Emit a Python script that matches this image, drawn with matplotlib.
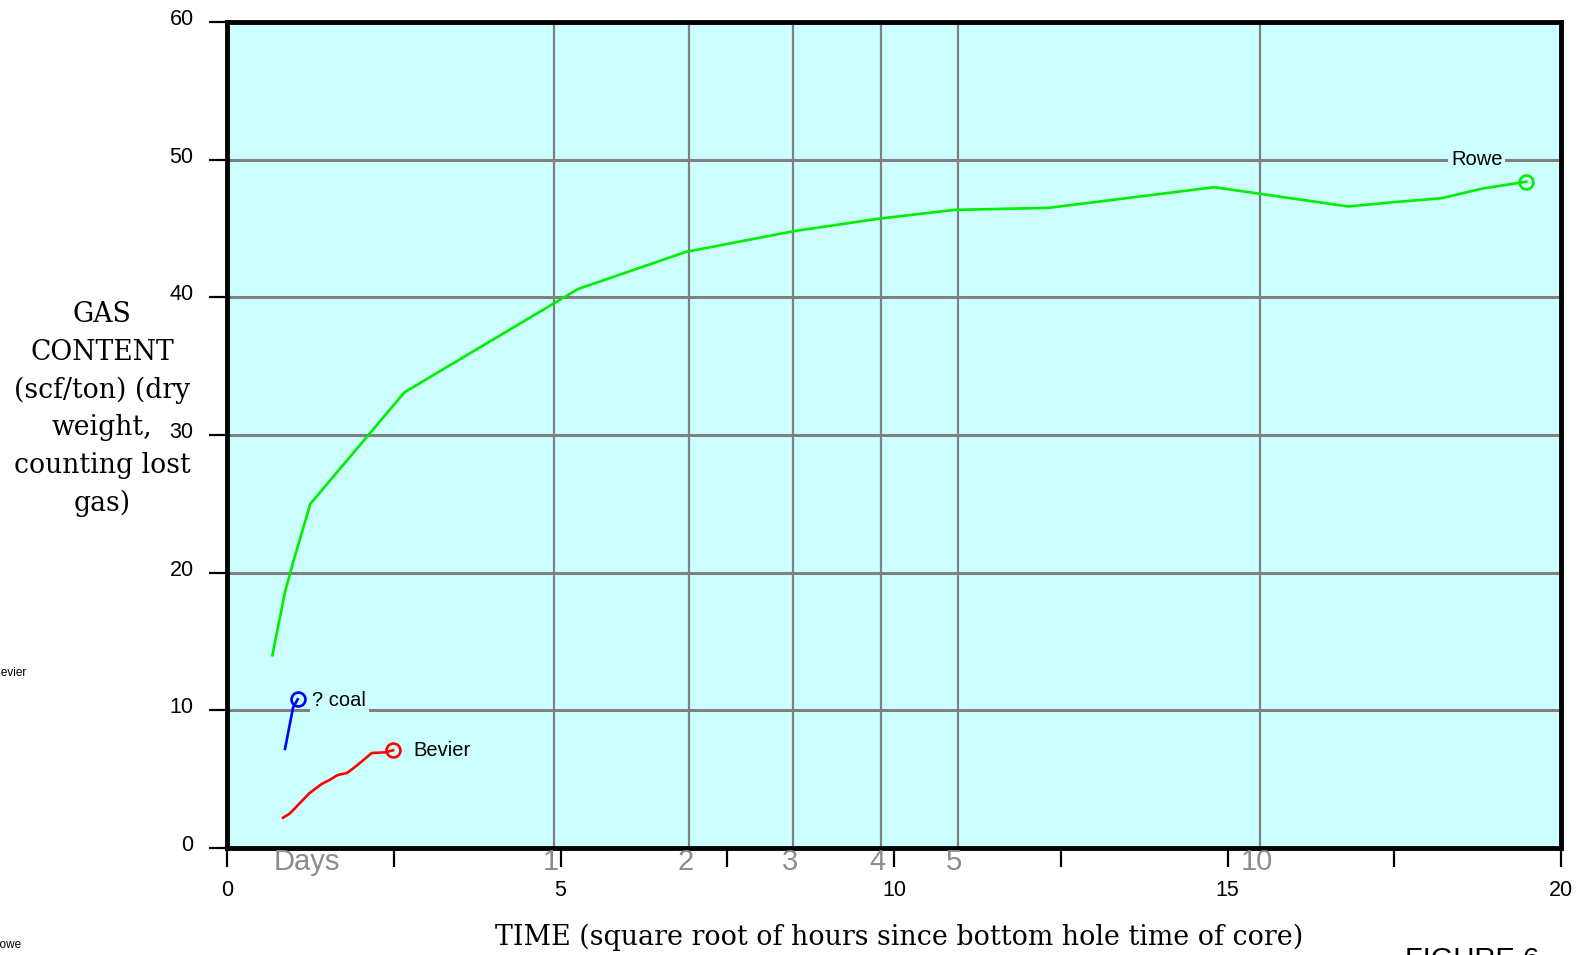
import numpy as np
import matplotlib
matplotlib.use("Agg")
import matplotlib.pyplot as plt
from matplotlib.transforms import ScaledTranslation

# gas content curves (x = sqrt of hours, y = scf/ton)
rowe_x = [0.68, 0.87, 1.0, 1.25, 2.66, 5.26, 6.88, 8.49, 9.75, 10.9, 12.32, 14.8, 16.81, 17.46, 18.21, 18.82, 19.48]
rowe_y = [14.0, 18.6, 20.9, 25.0, 33.1, 40.6, 43.3, 44.8, 45.7, 46.35, 46.5, 48.0, 46.6, 46.9, 47.2, 47.9, 48.4]

coal_x = [0.87, 0.99, 1.06]
coal_y = [7.2, 10.2, 10.8]

bevier_x = [0.84, 0.94, 1.24, 1.42, 1.54, 1.66, 1.80, 1.95, 2.17, 2.37, 2.49]
bevier_y = [2.2, 2.5, 4.0, 4.65, 4.95, 5.3, 5.45, 6.0, 6.9, 6.95, 7.1]

# day markers on the sqrt(hours) axis
day_marks = [1, 2, 3, 4, 5, 10]

x_major = [0, 5, 10, 15, 20]
x_minor = [2.5, 7.5, 12.5, 17.5]
y_ticks = [0, 10, 20, 30, 40, 50, 60]

sans = 'Liberation Sans'
serif = 'DejaVu Serif'
grid_gray = '#808080'

fig = plt.figure(figsize=(15.81, 9.55), dpi=100)
ax = fig.add_axes([227 / 1581, 1 - 848 / 955, (1561 - 227) / 1581, (848 - 22) / 955])
ax.set_facecolor('#ccffff')
ax.set_xlim(0, 20)
ax.set_ylim(0, 60)

# grid
for v in y_ticks[1:]:
    ax.axhline(v, color=grid_gray, lw=2.2, zorder=1)
for d in day_marks:
    xd = np.sqrt(24 * d)
    ax.axvline(xd, color=grid_gray, lw=1.6, zorder=1)
    ax.text(xd - 0.05, -1.0, str(d), color='#8c8c8c', fontsize=21, family=sans,
            ha='center', va='center', clip_on=False)
ax.text(1.2, -1.0, 'Days', color='#8c8c8c', fontsize=21, family=sans,
        ha='center', va='center', clip_on=False)

# curves
ax.plot(rowe_x, rowe_y, color='#00ee00', lw=1.9, zorder=3)
ax.plot(rowe_x[-1], rowe_y[-1], 'o', mfc='none', mec='#00ee00', mew=1.9, ms=10, zorder=3)
ax.plot(coal_x, coal_y, color='#0000ff', lw=1.9, zorder=3)
ax.plot(coal_x[-1], coal_y[-1], 'o', mfc='none', mec='#0000ff', mew=1.9, ms=10, zorder=3)
ax.plot(bevier_x, bevier_y, color='#ff0000', lw=1.9, zorder=3)
ax.plot(bevier_x[-1], bevier_y[-1], 'o', mfc='none', mec='#ff0000', mew=1.9, ms=10, zorder=3)

bb = dict(facecolor='#ccffff', edgecolor='none', pad=2)
ax.text(18.35, 50.0, 'Rowe', fontsize=14.5, family=sans, va='center', ha='left', bbox=bb, zorder=4)
ax.text(1.28, 10.75, '? coal', fontsize=14.5, family=sans, va='center', ha='left', bbox=bb, zorder=4)
ax.text(2.8, 7.1, 'Bevier', fontsize=14.5, family=sans, va='center', ha='left', zorder=4)

# frame
for s in ax.spines.values():
    s.set_linewidth(3.5)
    s.set_color('black')

ax.set_xticks(x_major)
ax.set_xticks(x_minor, minor=True)
ax.set_xticklabels([str(v) for v in x_major], family=sans, fontsize=15.5)
ax.set_yticks(y_ticks)
ax.set_yticklabels([str(v) for v in y_ticks], family=sans, fontsize=15.5)
ax.tick_params(axis='x', which='both', direction='out', length=14, width=1.6, pad=9)
ax.tick_params(axis='y', direction='out', length=13, width=1.6, pad=11)
for lab in ax.get_yticklabels():
    lab.set_transform(lab.get_transform() + ScaledTranslation(0, 5 / 100, fig.dpi_scale_trans))

# axis titles
fig.text(102 / 1581, 1 - 409 / 955,
         'GAS\nCONTENT\n(scf/ton) (dry\nweight,\ncounting lost\ngas)',
         family=serif, fontsize=19.2, ha='center', va='center', linespacing=1.5)
fig.text(899 / 1581, 1 - 937 / 955,
         'TIME (square root of hours since bottom hole time of core)',
         family=serif, fontsize=19.4, ha='center', va='center')
fig.text(1405 / 1581, 1 - 946 / 955, 'FIGURE 6', family=sans, fontsize=21,
         ha='left', va='top')

# clipped stray labels at left edge
fig.text(26 / 1581, 1 - 673 / 955, 'Bevier', family=sans, fontsize=8.5, ha='right', va='center')
fig.text(21 / 1581, 1 - 945 / 955, 'Rowe', family=sans, fontsize=8.5, ha='right', va='center')

fig.savefig('out.png', dpi=100)
